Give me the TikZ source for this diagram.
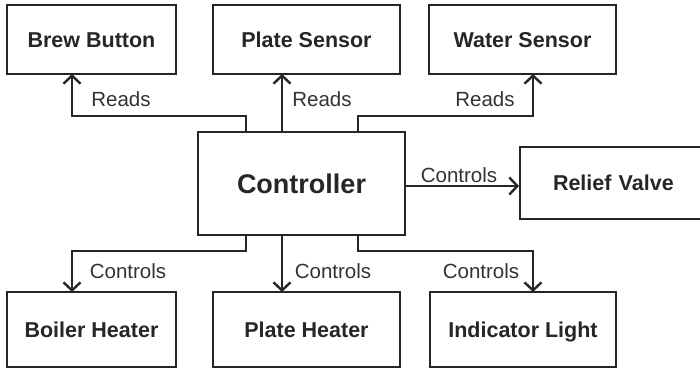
\documentclass[tikz,border=0pt]{standalone}
\usepackage{fontspec}
\setmainfont{Liberation Sans}
\usetikzlibrary{arrows.meta}
\begin{document}
\begin{tikzpicture}[x=1pt,y=-1pt,
  boxbase/.style={draw=black!85,line width=2pt,fill=white,text=black!85},
  boxst/.style={boxbase,font=\fontsize{21.5}{25}\selectfont\bfseries,text height=15.5pt,text depth=0pt},
  conn/.style={draw=black!85,line width=2.4pt,-{Straight Barb[length=8pt,width=17pt,line width=2.4pt]}},
  lbl/.style={font=\fontsize{20.5}{24}\selectfont,text=black!80,inner sep=0pt}]
\useasboundingbox (0,0) rectangle (700,370);
\clip (0,0) rectangle (700,370);
\fill[white] (0,0) rectangle (700,370);
% boxes
\node[boxst,minimum width=169pt,minimum height=69pt] (bb) at (91.5,39.5) {Brew Button};
\node[boxst,minimum width=187pt,minimum height=69pt] (ps) at (306.5,39.5) {Plate Sensor};
\node[boxst,minimum width=187pt,minimum height=69pt] (ws) at (522.5,39.5) {Water Sensor};
\node[boxbase,minimum width=207pt,minimum height=103pt,font=\fontsize{27}{32}\selectfont\bfseries] (ctl) at (301.5,183.5) {Controller};
\node[boxst,minimum width=200pt,minimum height=72pt,text width=180pt,align=left] (rv) at (620,183) {\hspace*{23pt}Relief Valve};
\node[boxst,minimum width=169pt,minimum height=75pt] (bh) at (91.5,329.5) {Boiler Heater};
\node[boxst,minimum width=187pt,minimum height=75pt] (ph) at (306.5,329.5) {Plate Heater};
\node[boxst,minimum width=186pt,minimum height=75pt] (il) at (523,329.5) {Indicator Light};
% connectors
\coordinate (c1) at (246,132);
\coordinate (c2) at (282,132);
\coordinate (c3) at (358,132);
\coordinate (d1) at (246,235);
\coordinate (d2) at (282,235);
\coordinate (d3) at (358,235);
\draw[conn] (c1) |- (72,116) -- (72,74);
\draw[conn] (c2) -- (282,74);
\draw[conn] (c3) |- (533,116) -- (533,74);
\draw[conn] (405,186) -- (rv.west |- 0,186);
\draw[conn] (d1) |- (72,251) -- (72,292);
\draw[conn] (d2) -- (282,292);
\draw[conn] (d3) |- (533,251) -- (533,292);
% labels
\node[lbl] at (121,99) {Reads};
\node[lbl] at (322,99) {Reads};
\node[lbl] at (485,99) {Reads};
\node[lbl] at (459,175) {Controls};
\node[lbl] at (128,271) {Controls};
\node[lbl] at (333,271) {Controls};
\node[lbl] at (481,271) {Controls};
\end{tikzpicture}
\end{document}
